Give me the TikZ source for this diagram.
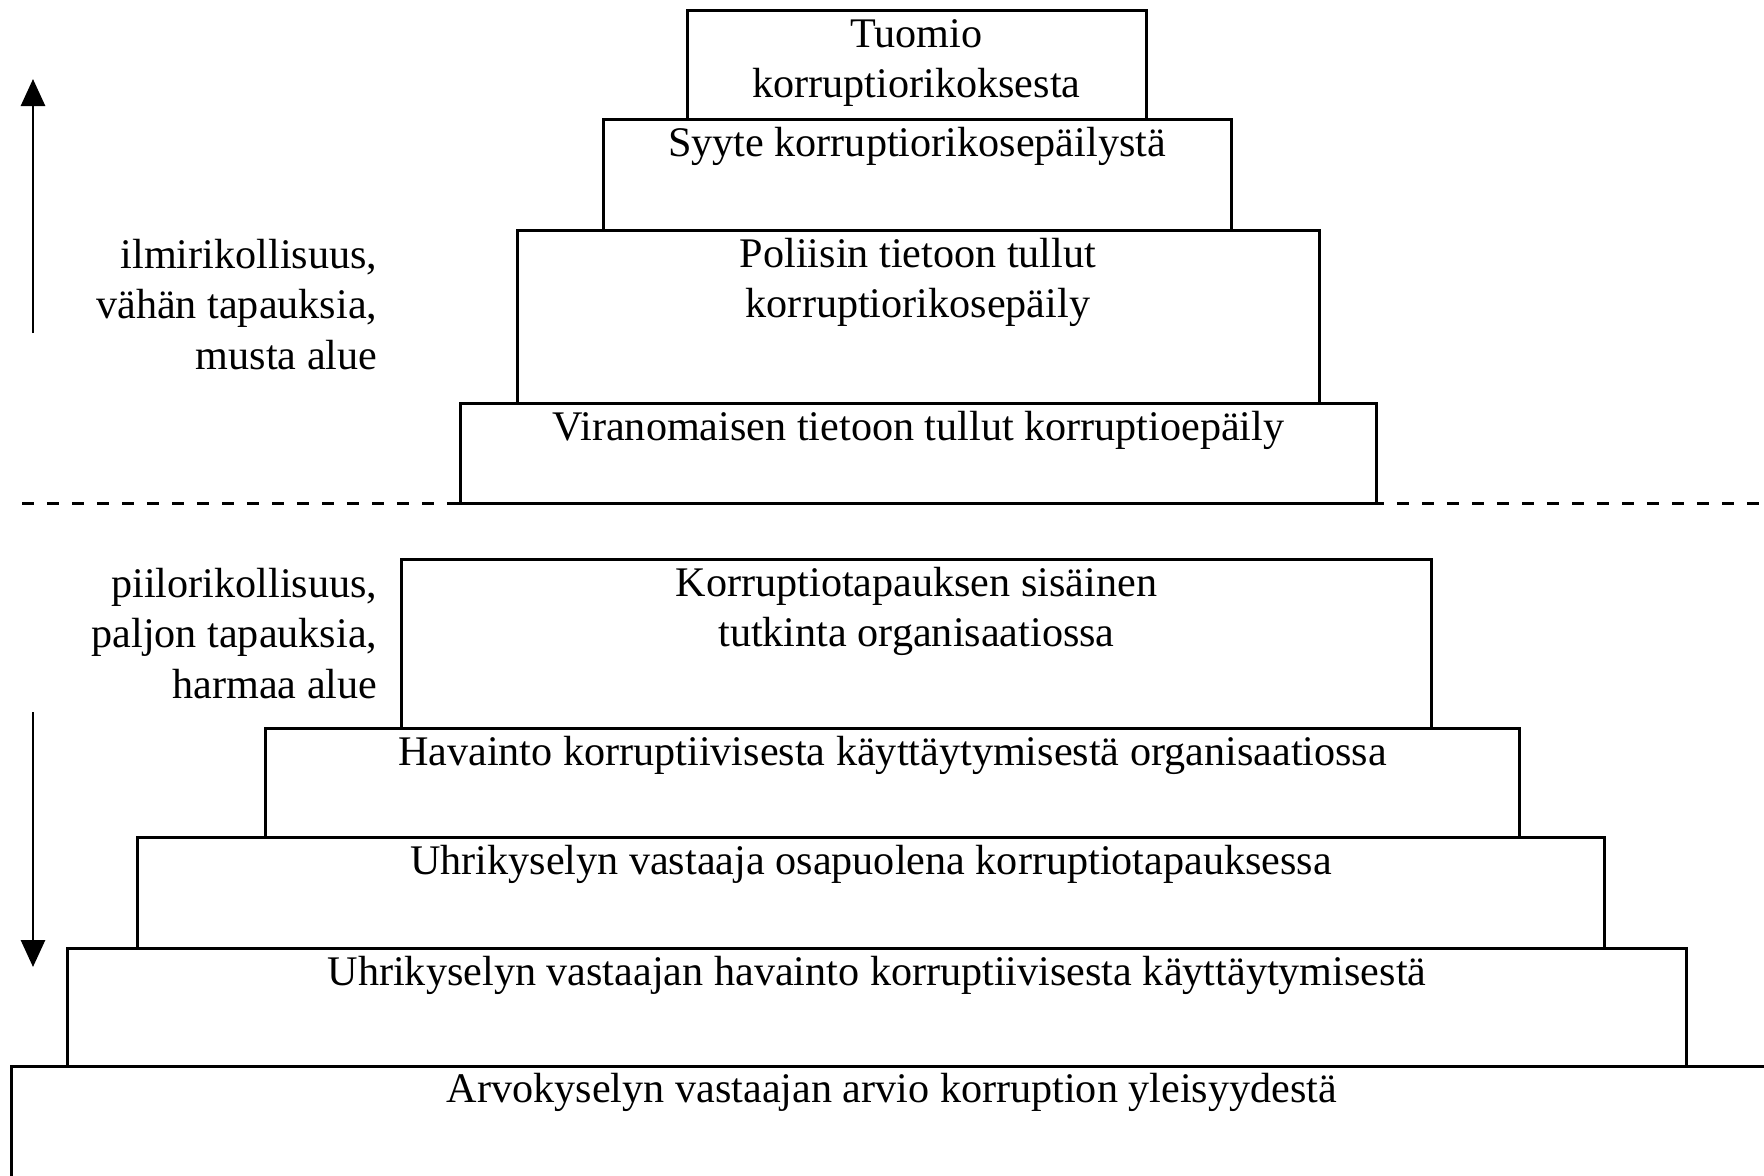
\documentclass[tikz,border=0pt]{standalone}
\usepackage{fontspec}
\setmainfont{Liberation Serif}
\usetikzlibrary{arrows.meta}
\tikzset{
  lvl/.style={draw=black, line width=0.3mm, anchor=north west, inner sep=0pt, outer sep=0pt},
  lbl/.style={font=\fontsize{12pt}{14.3pt}\selectfont, align=center, anchor=base, inner sep=0pt},
  side/.style={font=\fontsize{12pt}{14.3pt}\selectfont, align=right, anchor=base east, inner sep=0pt},
  vline/.style={line width=0.28mm, -{Triangle[width=2.4mm,length=2.7mm]}},
  sep/.style={line width=0.3mm, dash pattern=on 1.2mm off 1.3mm}
}
\begin{document}
\begin{tikzpicture}[x=0.1mm, y=-0.1mm]
\useasboundingbox (0,0) rectangle (1764,1176);
\clip (0,0) rectangle (1764,1176);
\fill[white] (0,0) rectangle (1764,1176);

% separator
\coordinate (sepL) at (22,503);
\coordinate (sepR) at (1764,503);
\draw[sep] (sepL) -- (sepR);

% upper pyramid
\node[lvl, minimum width=45.9mm, minimum height=10.9mm] (b1) at (687,10) {};
\node[lvl, minimum width=62.8mm, minimum height=11.1mm] (b2) at (603,119) {};
\node[lvl, minimum width=80.2mm, minimum height=17.3mm] (b3) at (517,230) {};
\node[lvl, minimum width=91.7mm, minimum height=10.0mm, fill=white] (b4) at (460,403) {};

% lower pyramid
\node[lvl, minimum width=103.1mm, minimum height=16.9mm] (b5) at (401,559) {};
\node[lvl, minimum width=125.5mm, minimum height=10.9mm] (b6) at (265,728) {};
\node[lvl, minimum width=146.8mm, minimum height=11.1mm] (b7) at (137,837) {};
\node[lvl, minimum width=162.0mm, minimum height=11.8mm] (b8) at (67,948) {};
\node[lvl, minimum width=176.2mm, minimum height=14.0mm] (b9) at (11,1066) {};

% box texts (anchor = baseline of last line)
\node[lbl] (t1) at ([yshift=-3.7mm-14.3pt]b1.north) {Tuomio\\korruptiorikoksesta};
\node[lbl] (t2) at ([yshift=-3.7mm]b2.north) {Syyte korruptiorikosepäilystä};
\node[lbl] (t3) at ([yshift=-3.7mm-14.3pt]b3.north) {Poliisin tietoon tullut\\korruptiorikosepäily};
\node[lbl] (t4) at ([yshift=-3.7mm]b4.north) {Viranomaisen tietoon tullut korruptioepäily};
\node[lbl] (t5) at ([yshift=-3.75mm-14.3pt]b5.north) {Korruptiotapauksen sisäinen\\tutkinta organisaatiossa};
\node[lbl] (t6) at ([yshift=-3.75mm]b6.north) {Havainto korruptiivisesta käyttäytymisestä organisaatiossa};
\node[lbl] (t7) at ([yshift=-3.75mm]b7.north) {Uhrikyselyn vastaaja osapuolena korruptiotapauksessa};
\node[lbl] (t8) at ([yshift=-3.75mm]b8.north) {Uhrikyselyn vastaajan havainto korruptiivisesta käyttäytymisestä};
\node[lbl] (t9) at ([yshift=-3.6mm]b9.north) {Arvokyselyn vastaajan arvio korruption yleisyydestä};

% side labels (anchor = baseline of last line)
\node[side] (s1) at (378,369) {ilmirikollisuus,\\vähän tapauksia,\\musta alue};
\node[side] (s2) at (378,698) {piilorikollisuus,\\paljon tapauksia,\\harmaa alue};

% arrows
\coordinate (upS) at (33,333);
\coordinate (upE) at (33,79);
\coordinate (dnS) at (33,712);
\coordinate (dnE) at (33,967);
\draw[vline] (upS) -- (upE);
\draw[vline] (dnS) -- (dnE);
\end{tikzpicture}
\end{document}
